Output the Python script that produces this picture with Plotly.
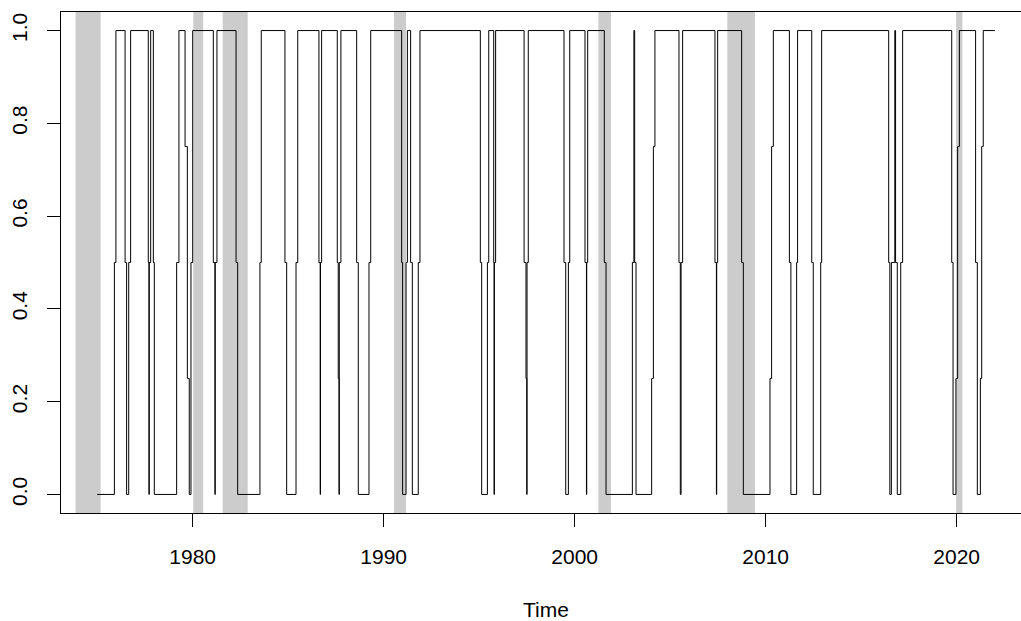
import plotly.graph_objects as go

# ---- data ----
# step series: time (decimal year) at which a new level begins, and that level
change_years = [
    1975.00, 1975.90, 1975.98, 1976.46, 1976.54, 1976.65, 1976.75,
    1977.675, 1977.71, 1977.725, 1977.80, 1977.94, 1977.99,
    1979.16, 1979.28, 1979.60, 1979.72, 1979.82, 1979.91, 1980.00,
    1981.08, 1981.165, 1981.18, 1981.27, 1982.27, 1982.355, 1983.52, 1983.59,
    1984.83, 1984.92, 1985.41, 1985.50,
    1986.61, 1986.675, 1986.69, 1986.75,
    1987.57, 1987.62, 1987.66, 1987.675, 1987.76,
    1988.585, 1988.67, 1989.23, 1989.32,
    1990.94, 1990.99, 1991.17, 1991.24, 1991.41, 1991.50, 1991.81, 1991.90,
    1995.06, 1995.13, 1995.43, 1995.50, 1995.76, 1995.78, 1995.795, 1995.86,
    1997.35, 1997.45, 1997.49, 1997.505, 1997.57,
    1999.44, 1999.53, 1999.67, 1999.74,
    2000.54, 2000.615, 2000.63, 2000.68,
    2001.55, 2001.64,
    2003.02, 2003.10, 2003.14, 2003.21,
    2004.03, 2004.12, 2004.20,
    2005.46, 2005.53, 2005.57, 2005.65,
    2007.345, 2007.42, 2007.435, 2007.485,
    2008.74, 2008.83,
    2010.225, 2010.31, 2010.40,
    2011.24, 2011.32, 2011.62, 2011.67,
    2012.41, 2012.49, 2012.88, 2012.93,
    2016.44, 2016.50, 2016.58, 2016.76, 2016.80, 2016.89, 2017.07, 2017.17,
    2019.74, 2019.81, 2019.96, 2020.05, 2020.14,
    2020.99, 2021.08, 2021.24, 2021.31, 2021.39,
]
levels = [
    0, 0.5, 1, 0.5, 0, 0.5, 1,
    0.5, 0, 0.5, 1, 0.5, 0,
    0.5, 1, 0.75, 0.25, 0, 0.5, 1,
    0.5, 0, 0.5, 1, 0.5, 0, 0.5, 1,
    0.5, 0, 0.5, 1,
    0.5, 0, 0.5, 1,
    0.5, 0.25, 0, 0.5, 1,
    0.5, 0, 0.5, 1,
    0.5, 0, 0.5, 1, 0.5, 0, 0.5, 1,
    0.5, 0, 0.5, 1, 0.5, 0, 0.5, 1,
    0.5, 0.25, 0, 0.5, 1,
    0.5, 0, 0.5, 1,
    0.5, 0, 0.5, 1,
    0.5, 0,
    0.5, 1, 0.5, 0,
    0.25, 0.75, 1,
    0.5, 0, 0.5, 1,
    0.5, 0, 0.5, 1,
    0.5, 0,
    0.25, 0.75, 1,
    0.5, 0, 0.5, 1,
    0.5, 0, 0.5, 1,
    0.5, 0, 0.5, 1, 0.5, 0, 0.5, 1,
    0.5, 0, 0.25, 0.75, 1,
    0.5, 0, 0.25, 0.75, 1,
]
end_year = 2022.0

# recession shading periods
rec_start = [1973.87, 1980.03, 1981.57, 1990.54, 2001.24, 2007.99, 2019.97]
rec_end = [1975.18, 1980.55, 1982.88, 1991.17, 2001.90, 2009.44, 2020.30]

x_ticks = [1980, 1990, 2000, 2010, 2020]
y_ticks = [0.0, 0.2, 0.4, 0.6, 0.8, 1.0]

FONT = "Arial, Liberation Sans, sans-serif"

fig = go.Figure()
fig.add_trace(go.Scatter(
    x=change_years + [end_year],
    y=levels + [levels[-1]],
    mode="lines",
    line=dict(color="black", width=1, shape="hv"),
    hoverinfo="skip",
    showlegend=False,
))

for s, e in zip(rec_start, rec_end):
    fig.add_shape(type="rect", xref="x", yref="paper", x0=s, x1=e, y0=0, y1=1,
                  fillcolor="#CCCCCC", line=dict(width=0), layer="below")

fig.add_annotation(text="Time", xref="paper", yref="paper",
                   x=(546 - 61) / 960, y=-(609 - 513) / 501,
                   xanchor="center", yanchor="middle", showarrow=False,
                   font=dict(family=FONT, size=21, color="black"))

fig.update_layout(
    width=1021, height=621,
    margin=dict(l=61, r=0, t=12, b=108, pad=0),
    paper_bgcolor="white", plot_bgcolor="white",
    font=dict(family=FONT, size=21, color="black"),
    xaxis=dict(range=[1973.105, 2023.367], tickvals=x_ticks,
               ticktext=[str(v) for v in x_ticks],
               showgrid=False, zeroline=False,
               showline=True, linecolor="black", linewidth=1, mirror=True,
               ticks="outside", ticklen=13, tickcolor="black", tickwidth=1,
               ticklabelstandoff=12),
    yaxis=dict(range=[-0.04, 1.04], tickvals=y_ticks,
               ticktext=["%.1f" % v for v in y_ticks],
               showgrid=False, zeroline=False,
               showline=True, linecolor="black", linewidth=1, mirror=False,
               ticks="outside", ticklen=13, tickcolor="black", tickwidth=1,
               tickangle=-90, ticklabelstandoff=12),
)

fig.write_html("out.html", config={"displayModeBar": False},
               post_script="document.body.style.margin='0px';document.body.style.overflow='hidden';")
